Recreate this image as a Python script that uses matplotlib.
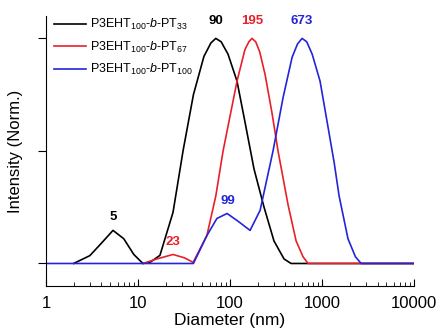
import numpy as np
import matplotlib
matplotlib.use("Agg")
import matplotlib.pyplot as plt
from matplotlib.ticker import LogLocator, NullFormatter, FixedFormatter, FixedLocator

plt.rcParams["font.family"] = ["Liberation Sans", "DejaVu Sans"]
plt.rcParams["mathtext.fontset"] = "custom"
plt.rcParams["mathtext.rm"] = "Liberation Sans"
plt.rcParams["mathtext.it"] = "Liberation Sans:italic"

# diameter (nm) / normalised intensity
d33 = [2.0, 3.0, 4.0, 5.35, 7.0, 9.0, 11.3, 13.5, 17.3, 24, 30.9, 40, 52, 62, 70,
       80, 95, 119, 145, 182, 234, 300, 386, 460, 10000]
i33 = [0.0, 0.035, 0.09, 0.147, 0.11, 0.04, 0.0, 0.005, 0.036, 0.227, 0.502, 0.75, 0.92, 0.98, 1.0,
       0.985, 0.93, 0.81, 0.63, 0.42, 0.25, 0.1, 0.02, 0.0, 0.0]

d67 = [11.3, 16, 24, 32, 39.7, 56, 70, 84, 119, 145, 160, 173, 190, 210, 240, 286, 332,
       427, 522, 620, 705, 10000]
i67 = [0.0, 0.02, 0.04, 0.025, 0.005, 0.124, 0.3, 0.5, 0.81, 0.95, 0.985, 1.0, 0.985, 0.94, 0.84, 0.667, 0.5,
       0.26, 0.1, 0.03, 0.0, 0.0]

d100 = [1.0, 40, 56, 72, 92.8, 120, 165, 212, 293, 377, 472, 540, 606, 680, 780, 950,
        1100, 1350, 1530, 1910, 2300, 2655, 10000]
i100 = [0.0, 0.0, 0.124, 0.2, 0.222, 0.19, 0.147, 0.236, 0.5, 0.738, 0.916, 0.975, 1.0, 0.985, 0.93, 0.81,
        0.66, 0.45, 0.3, 0.11, 0.03, 0.0, 0.0]

names = [r"P3EHT$_{100}$-$\it{b}$-PT$_{33}$",
         r"P3EHT$_{100}$-$\it{b}$-PT$_{67}$",
         r"P3EHT$_{100}$-$\it{b}$-PT$_{100}$"]
colors = ["black", "#e8202a", "#2424d8"]

# peak annotations: (diameter, intensity, text, colour index)
peaks = [(5.35, 0.147, "5", 0), (70, 1.0, "90", 0), (24, 0.04, "23", 1),
         (173, 1.0, "195", 1), (95, 0.222, "99", 2), (606, 1.0, "673", 2)]

fig = plt.figure(figsize=(4.42, 3.31), dpi=100)
ax = fig.add_axes([0.104, 0.136, 0.833, 0.816])

for d, i, n, c in zip([d33, d67, d100], [i33, i67, i100], names, colors):
    ax.plot(d, i, color=c, lw=1.2, label=n)

for x, y, t, ci in peaks:
    off = 8 if y > 0.9 else 5
    ax.annotate(t, (x, y), xytext=(0, off), textcoords="offset points",
                ha="center", va="bottom", color=colors[ci],
                fontsize=9.5, fontweight="bold")

ax.set_xscale("log")
ax.set_xlim(1, 10000)
ax.set_ylim(-0.1, 1.1)
ax.set_yticks([0, 0.5, 1.0])
ax.set_yticklabels([])
ax.xaxis.set_major_locator(FixedLocator([1, 10, 100, 1000, 10000]))
ax.xaxis.set_major_formatter(FixedFormatter(["1", "10", "100", "1000", "10000"]))
ax.xaxis.set_minor_locator(LogLocator(base=10, subs=np.arange(2, 10)))
ax.xaxis.set_minor_formatter(NullFormatter())

ax.spines["top"].set_visible(False)
ax.spines["right"].set_visible(False)
ax.tick_params(axis="x", which="major", direction="in", length=5, labelsize=12, pad=7)
ax.tick_params(axis="x", which="minor", direction="in", length=3)
ax.tick_params(axis="y", direction="out", length=6)

ax.set_xlabel("Diameter (nm)", fontsize=12.5, labelpad=2)
ax.set_ylabel("Intensity (Norm.)", fontsize=12, labelpad=7)

ax.legend(loc="upper left", bbox_to_anchor=(-0.01, 1.037), frameon=False,
          fontsize=9, handlelength=2.6, handletextpad=0.35, labelspacing=0.6)

fig.savefig("out.png", dpi=100)
